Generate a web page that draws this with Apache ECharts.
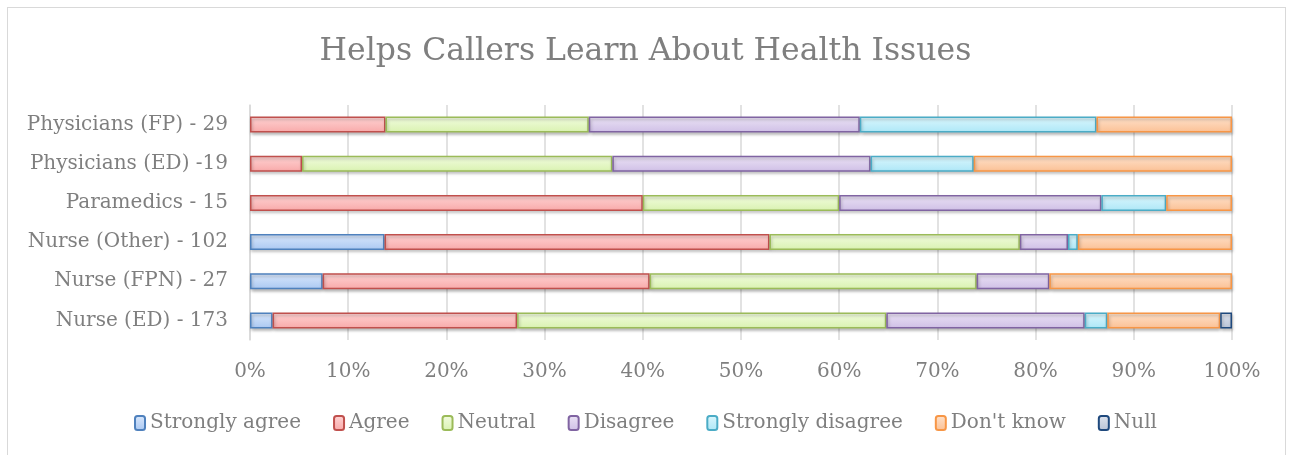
<!DOCTYPE html>
<html>
<head>
<meta charset="utf-8">
<script src="https://cdn.jsdelivr.net/npm/echarts@6/dist/echarts.min.js"></script>
<style>
  html, body { margin: 0; padding: 0; background: #fff; }
  #frame { position: absolute; left: 7px; top: 7px; width: 1277px; height: 460px; border: 1px solid #d9d9d9; }
  #chart { position: absolute; left: 0; top: 0; width: 1291px; height: 455px; }
</style>
</head>
<body>
<div id="frame"></div>
<div id="chart"></div>
<script>
// categories, top to bottom
const categories = [
  "Physicians (FP) - 29",
  "Physicians (ED) -19",
  "Paramedics - 15",
  "Nurse (Other) - 102",
  "Nurse (FPN) - 27",
  "Nurse (ED) - 173",
];

// percentage of respondents per answer, same order as categories
const stronglyAgree = [0, 0, 0, 13.7, 7.4, 2.3];
const agree = [13.8, 5.3, 40.0, 39.2, 33.3, 24.9];
const neutral = [20.7, 31.6, 20.0, 25.5, 33.3, 37.6];
const disagree = [27.6, 26.3, 26.7, 4.9, 7.4, 20.2];
const stronglyDisagree = [24.1, 10.5, 6.6, 1.0, 0, 2.3];
const dontKnow = [13.8, 26.3, 6.7, 15.7, 18.6, 11.5];
const nullAnswer = [0, 0, 0, 0, 0, 1.2];

const xTicks = [0, 10, 20, 30, 40, 50, 60, 70, 80, 90, 100];

const font = "'DejaVu Serif', serif";
const grey = "#7f7f7f";

const grad = (top, bottom) =>
  new echarts.graphic.LinearGradient(0, 0, 0, 1, [
    { offset: 0, color: top },
    { offset: 1, color: bottom },
  ]);

const series = [
  { name: "Strongly agree", data: stronglyAgree, border: "#4f81bd", top: "#dae8fc", bottom: "#aac8f2" },
  { name: "Agree", data: agree, border: "#c0504d", top: "#ffd4d4", bottom: "#f8a9a9" },
  { name: "Neutral", data: neutral, border: "#9bbb59", top: "#f2fce0", bottom: "#d9f2b0" },
  { name: "Disagree", data: disagree, border: "#8064a2", top: "#ebe3f5", bottom: "#cfbfe6" },
  { name: "Strongly disagree", data: stronglyDisagree, border: "#4bacc6", top: "#dcf7fd", bottom: "#ade7f7" },
  { name: "Don't know", data: dontKnow, border: "#f79646", top: "#fee2cc", bottom: "#fbc094" },
  { name: "Null", data: nullAnswer, border: "#1f497d", top: "#dfe4ee", bottom: "#b8c3d6" },
].map((s) => ({
  name: s.name,
  type: "bar",
  stack: "total",
  barWidth: 16,
  // empty answers get no segment at all
  data: s.data.map((v) => (v === 0 ? "-" : v)),
  itemStyle: {
    color: grad(s.top, s.bottom),
    borderColor: s.border,
    borderWidth: 1.5,
    shadowColor: "rgba(0,0,0,0.25)",
    shadowBlur: 3,
    shadowOffsetX: 1,
    shadowOffsetY: 2,
  },
  emphasis: { disabled: true },
}));

const chart = echarts.init(document.getElementById("chart"));
chart.setOption({
  animation: false,
  title: {
    text: "Helps Callers Learn About Health Issues",
    left: "center",
    top: 31,
    textStyle: { fontFamily: font, fontSize: 31.5, fontWeight: "normal", color: grey },
  },
  legend: {
    bottom: 17,
    left: "center",
    itemWidth: 10,
    itemHeight: 14,
    itemGap: 32,
    textStyle: { fontFamily: font, fontSize: 20, color: grey },
    data: series.map((s) => s.name),
  },
  grid: { left: 250, right: 59, top: 105, bottom: 115 },
  xAxis: {
    type: "value",
    min: xTicks[0],
    max: xTicks[xTicks.length - 1],
    interval: 10,
    axisLine: { show: false },
    axisTick: { show: false },
    splitLine: { lineStyle: { color: "#d9d9d9", width: 1.5 } },
    axisLabel: {
      margin: 22,
      fontFamily: font,
      fontSize: 20,
      color: grey,
      formatter: (v) => v + "%",
    },
  },
  yAxis: {
    type: "category",
    inverse: true,
    data: categories,
    axisLine: { show: true, lineStyle: { color: "#d9d9d9", width: 1.5 } },
    axisTick: { show: false },
    axisLabel: { margin: 22, fontFamily: font, fontSize: 20, color: grey },
  },
  series,
});
</script>
</body>
</html>
